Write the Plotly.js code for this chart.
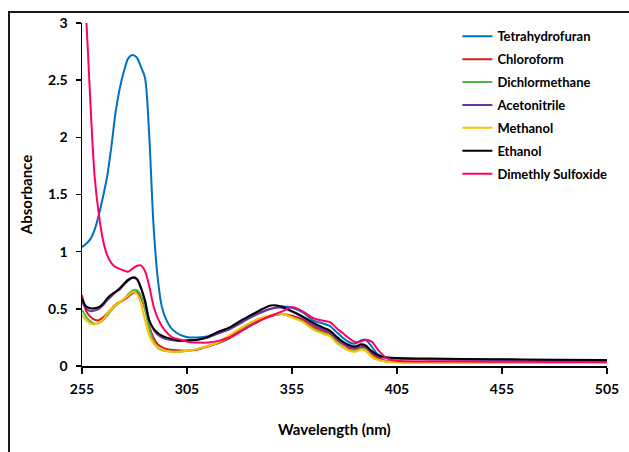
<!DOCTYPE html>
<html>
<head>
<meta charset="utf-8">
<script src="https://cdn.plot.ly/plotly-3.0.1.min.js"></script>
<style>
  html, body { margin: 0; padding: 0; background: #fff; overflow: hidden; }
  #frame { position: absolute; left: 8px; top: 11px; width: 700px; height: 520px; border: 2px solid #1a1a1a; }
  #chart { position: absolute; left: 0; top: 0; width: 629px; height: 452px; }
</style>
</head>
<body>
<div id="frame"></div>
<div id="chart"></div>
<script>
// Wavelength grid (nm) shared by all spectra
const wavelength = [255, 257, 259, 261, 263, 265, 267, 269, 271, 273, 275, 277, 279, 281, 283, 285, 287, 289, 291, 293, 295, 298, 302, 306, 310, 315, 320, 325, 330, 335, 340, 345, 350, 355, 360, 365, 370, 373, 376, 379, 382, 385, 388, 390, 393, 396, 400, 405, 420, 450, 480, 505];

// Absorbance per solvent
const tetrahydrofuran = [1.04, 1.07, 1.11, 1.19, 1.32, 1.48, 1.66, 1.92, 2.22, 2.43, 2.58, 2.69, 2.72, 2.70, 2.62, 2.52, 2.02, 1.25, 0.78, 0.52, 0.41, 0.32, 0.27, 0.25, 0.25, 0.26, 0.29, 0.32, 0.37, 0.43, 0.47, 0.50, 0.52, 0.51, 0.47, 0.40, 0.37, 0.35, 0.30, 0.25, 0.21, 0.195, 0.225, 0.23, 0.17, 0.10, 0.072, 0.065, 0.06, 0.055, 0.052, 0.05];
const chloroform = [0.62, 0.48, 0.43, 0.405, 0.40, 0.425, 0.46, 0.50, 0.535, 0.56, 0.58, 0.605, 0.635, 0.645, 0.60, 0.50, 0.35, 0.25, 0.19, 0.165, 0.15, 0.14, 0.135, 0.135, 0.145, 0.17, 0.20, 0.24, 0.295, 0.35, 0.40, 0.435, 0.455, 0.44, 0.405, 0.345, 0.305, 0.285, 0.235, 0.195, 0.16, 0.15, 0.165, 0.16, 0.11, 0.07, 0.045, 0.04, 0.037, 0.036, 0.035, 0.035];
const dichlormethane = [0.49, 0.43, 0.39, 0.37, 0.375, 0.40, 0.44, 0.49, 0.525, 0.555, 0.585, 0.625, 0.66, 0.665, 0.62, 0.50, 0.33, 0.22, 0.16, 0.14, 0.13, 0.125, 0.125, 0.135, 0.15, 0.175, 0.205, 0.25, 0.31, 0.365, 0.41, 0.44, 0.455, 0.43, 0.39, 0.33, 0.29, 0.27, 0.215, 0.17, 0.14, 0.13, 0.15, 0.14, 0.09, 0.055, 0.04, 0.035, 0.032, 0.031, 0.03, 0.03];
const acetonitrile = [0.56, 0.50, 0.48, 0.485, 0.50, 0.53, 0.575, 0.61, 0.645, 0.67, 0.71, 0.745, 0.77, 0.76, 0.68, 0.57, 0.40, 0.32, 0.275, 0.25, 0.235, 0.225, 0.22, 0.225, 0.23, 0.25, 0.285, 0.32, 0.37, 0.42, 0.465, 0.50, 0.51, 0.475, 0.425, 0.365, 0.32, 0.295, 0.245, 0.20, 0.17, 0.16, 0.18, 0.17, 0.12, 0.085, 0.07, 0.065, 0.06, 0.055, 0.05, 0.048];
const methanol = [0.445, 0.40, 0.37, 0.365, 0.375, 0.405, 0.455, 0.50, 0.53, 0.56, 0.59, 0.615, 0.645, 0.635, 0.55, 0.40, 0.27, 0.20, 0.165, 0.145, 0.132, 0.125, 0.127, 0.135, 0.15, 0.175, 0.21, 0.265, 0.325, 0.38, 0.42, 0.445, 0.46, 0.425, 0.385, 0.32, 0.28, 0.26, 0.205, 0.165, 0.135, 0.125, 0.145, 0.135, 0.08, 0.052, 0.038, 0.032, 0.03, 0.03, 0.03, 0.03];
const ethanol = [0.59, 0.52, 0.505, 0.505, 0.515, 0.545, 0.59, 0.625, 0.65, 0.68, 0.72, 0.755, 0.775, 0.765, 0.69, 0.57, 0.40, 0.33, 0.29, 0.265, 0.25, 0.235, 0.22, 0.225, 0.23, 0.255, 0.30, 0.335, 0.39, 0.44, 0.49, 0.53, 0.52, 0.48, 0.435, 0.38, 0.335, 0.31, 0.26, 0.215, 0.185, 0.17, 0.19, 0.18, 0.13, 0.095, 0.076, 0.07, 0.065, 0.06, 0.055, 0.052];
const dimethylSulfoxide = [3.6, 3.05, 2.3, 1.66, 1.33, 1.10, 0.97, 0.90, 0.865, 0.85, 0.835, 0.825, 0.85, 0.875, 0.88, 0.83, 0.70, 0.53, 0.42, 0.35, 0.30, 0.25, 0.23, 0.21, 0.205, 0.205, 0.22, 0.25, 0.30, 0.35, 0.40, 0.44, 0.475, 0.515, 0.48, 0.42, 0.395, 0.385, 0.335, 0.29, 0.245, 0.21, 0.215, 0.23, 0.213, 0.14, 0.07, 0.045, 0.04, 0.038, 0.036, 0.035];

const seriesNames = ['Tetrahydrofuran', 'Chloroform', 'Dichlormethane', 'Acetonitrile', 'Methanol', 'Ethanol', 'Dimethly Sulfoxide'];
const seriesValues = [tetrahydrofuran, chloroform, dichlormethane, acetonitrile, methanol, ethanol, dimethylSulfoxide];
const seriesColors = ['#0070C0', '#E0161B', '#4DB848', '#7030A0', '#FFC000', '#000000', '#FF0066'];

const xTicks = [255, 305, 355, 405, 455, 505];
const yTicks = [0, 0.5, 1, 1.5, 2, 2.5, 3];

const font = 'Lato, "Open Sans", sans-serif';

const traces = seriesNames.map((name, i) => ({
  type: 'scatter',
  mode: 'lines',
  name: name,
  legendgroup: 'g' + i,
  x: wavelength,
  y: seriesValues[i],
  line: { color: seriesColors[i], width: 2, shape: 'spline', smoothing: 0.8 }
}));

const layout = {
  width: 629,
  height: 452,
  margin: { l: 82, r: 22, t: 23, b: 86 },
  paper_bgcolor: 'rgba(0,0,0,0)',
  plot_bgcolor: 'rgba(0,0,0,0)',
  font: { family: font, color: '#000', size: 13 },
  showlegend: true,
  legend: {
    x: 0.715, y: 1.005, xanchor: 'left', yanchor: 'top',
    bgcolor: 'rgba(0,0,0,0)', borderwidth: 0,
    traceorder: 'grouped', tracegroupgap: 3,
    font: { family: font, size: 13, color: '#000', weight: 'bold' }
  },
  xaxis: {
    range: [255, 505],
    tickvals: xTicks,
    ticktext: xTicks.map(String),
    ticks: 'outside', ticklen: 6, tickwidth: 1.5, tickcolor: '#000',
    ticklabelstandoff: 4,
    showline: true, linecolor: '#000', linewidth: 1.5,
    showgrid: false, zeroline: false,
    tickfont: { family: font, size: 14, weight: 'bold' }
  },
  yaxis: {
    range: [0, 3],
    tickvals: yTicks,
    ticktext: yTicks.map(String),
    ticks: 'outside', ticklen: 5, tickwidth: 1.5, tickcolor: '#000',
    ticklabelstandoff: 5,
    showline: true, linecolor: '#000', linewidth: 1.5,
    showgrid: false, zeroline: false,
    tickfont: { family: font, size: 14, weight: 'bold' },
    title: { text: 'Absorbance', font: { family: font, size: 15, weight: 'bold' }, standoff: 12 }
  },
  annotations: [{
    text: 'Wavelength (nm)',
    xref: 'paper', yref: 'paper', x: 0.48, y: -0.184,
    xanchor: 'center', yanchor: 'middle', showarrow: false,
    font: { family: font, size: 15, weight: 'bold', color: '#000' }
  }]
};

Plotly.newPlot('chart', traces, layout, { staticPlot: true, displayModeBar: false });
</script>
</body>
</html>
